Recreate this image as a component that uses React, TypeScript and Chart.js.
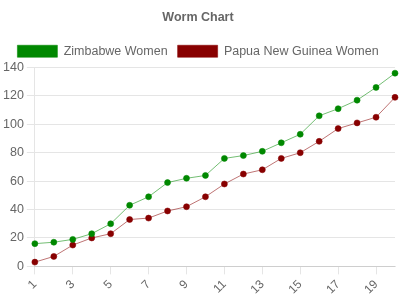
import React, { useEffect, useRef } from "react";
import { Chart, registerables } from "chart.js";

Chart.register(...registerables);

const categories = ["1","2","3","4","5","6","7","8","9","10","11","12","13","14","15","16","17","18","19","20"];
const zimbabweWomen = [16, 17, 19, 23, 30, 43, 49, 59, 62, 64, 76, 78, 81, 87, 93, 106, 111, 117, 126, 136];
const papuaWomen = [3, 7, 15, 20, 23, 33, 34, 39, 42, 49, 58, 65, 68, 76, 80, 88, 97, 101, 105, 119];
const seriesNames = ["Zimbabwe Women", "Papua New Guinea Women"];

export default function App() {
  const ref = useRef<HTMLCanvasElement>(null);
  useEffect(() => {
    document.body.style.margin = "0";
    const ctx = ref.current!;
    Chart.defaults.font.family = "Arial, 'Liberation Sans', sans-serif";
    Chart.defaults.color = "#666";
    const chart = new Chart(ctx, {
      type: "line",
      data: {
        labels: categories,
        datasets: [
          {
            label: seriesNames[0],
            data: zimbabweWomen,
            backgroundColor: "#008800",
            borderColor: "rgba(0,136,0,0.55)",
            pointBackgroundColor: "#008800",
            pointBorderColor: "rgba(0,136,0,0.55)",
            borderWidth: 1,
            pointRadius: 3,
            pointBorderWidth: 1,
            fill: false,
            tension: 0,
          },
          {
            label: seriesNames[1],
            data: papuaWomen,
            backgroundColor: "#880000",
            borderColor: "rgba(136,0,0,0.55)",
            pointBackgroundColor: "#880000",
            pointBorderColor: "rgba(136,0,0,0.55)",
            borderWidth: 1,
            pointRadius: 3,
            pointBorderWidth: 1,
            fill: false,
            tension: 0,
          },
        ],
      },
      options: {
        animation: false,
        responsive: false,
        maintainAspectRatio: false,
        layout: { padding: { left: 0, right: 4, top: 0, bottom: 0 } },
        plugins: {
          title: {
            display: true,
            text: "Worm Chart",
            color: "#666",
            font: { size: 12.5, weight: "bold" },
            padding: { top: 10, bottom: 10 },
          },
          legend: {
            display: true,
            labels: { boxWidth: 40, boxHeight: 12, color: "#666", font: { size: 12.5 } },
          },
          tooltip: { enabled: false },
        },
        scales: {
          x: {
            grid: { drawOnChartArea: false, color: "rgba(0,0,0,0.1)", tickLength: 8 },
            ticks: { minRotation: 45, maxRotation: 45, autoSkip: true, color: "#666", font: { size: 12 } },
          },
          y: {
            min: 0,
            max: 140,
            ticks: { stepSize: 20, color: "#666", font: { size: 12.5 } },
            grid: { color: "rgba(0,0,0,0.1)", tickLength: 8 },
          },
        },
      },
    });
    return () => chart.destroy();
  }, []);
  return (
    <div style={{ width: 400, height: 300 }}>
      <canvas ref={ref} width={400} height={300} style={{ display: "block" }} />
    </div>
  );
}
